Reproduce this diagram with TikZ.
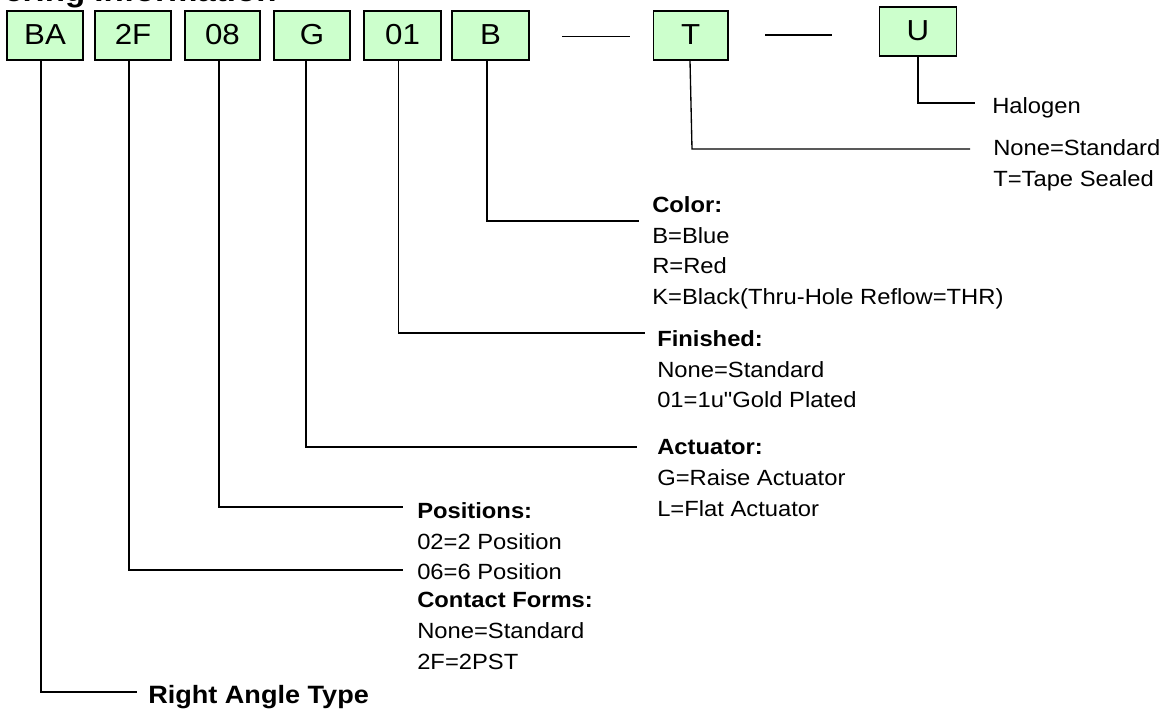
\documentclass[tikz,border=0pt]{standalone}
\usepackage{fontspec}
\setmainfont[FakeStretch=1.08]{Liberation Sans}
\newfontfamily\quotefont[FakeStretch=1.08]{Liberation Sans}
\definecolor{boxgreen}{HTML}{CCFFCC}
\tikzset{
  part/.style={draw=black,fill=boxgreen,line width=1pt,minimum height=49pt*0.75,inner sep=0pt,text height=12.9pt,text depth=0pt,font=\fontsize{21.7}{24}\selectfont,text=black},
  lead/.style={line width=1pt,black},
  info/.style={anchor=north west,inner sep=0pt,align=left,font=\fontsize{16.5}{23.1}\selectfont},
}
\begin{document}
\begin{tikzpicture}[x=0.75pt,y=-0.75pt]
\useasboundingbox (0,0) rectangle (1163,710);
\begin{scope}
\clip (0,0) rectangle (1163,710);
\node[anchor=base west,inner sep=0pt,font=\bfseries\fontsize{23}{26}\selectfont] (title) at (4,1.5) {ering Information};
\end{scope}
\node[part,minimum width=76pt*0.75] (ba) at (45,35.5) {BA};
\node[part,minimum width=76pt*0.75] (f2) at (133,35.5) {2F};
\node[part,minimum width=75pt*0.75] (p8) at (222.5,35.5) {08};
\node[part,minimum width=76pt*0.75] (g) at (312,35.5) {G};
\node[part,minimum width=77pt*0.75] (z1) at (402.5,35.5) {01};
\node[part,minimum width=77pt*0.75] (b) at (490.5,35.5) {B};
\node[part,minimum width=74.5pt*0.75] (t) at (690.75,35.5) {T};
\node[part,minimum width=76.4pt*0.75] (u) at (918,31.5) {U};
\coordinate (d1a) at (562,36.5);\coordinate (d1b) at (630,36.5);
\coordinate (d2a) at (765,35);\coordinate (d2b) at (832,35);
\draw[lead] (d1a)--(d1b);
\draw[lead] (d2a)--(d2b);
\node[info] (nu) at (992,97) {Halogen};
\node[info] (nt) at (993,139) {None=Standard\\T=Tape Sealed};
\node[info] (nb) at (652,196) {\textbf{Color:}\\B=Blue\\R=Red\\K=Black(Thru-Hole Reflow=THR)};
\node[info] (nz) at (657,330) {\textbf{Finished:}\\None=Standard\\01=1u{\quotefont "}Gold Plated};
\node[info] (ng) at (657,439) {\textbf{Actuator:}\\G=Raise Actuator\\L=Flat Actuator};
\node[info] (np) at (417,502) {\textbf{Positions:}\\02=2 Position\\06=6 Position};
\node[info] (nf) at (417,592) {\textbf{Contact Forms:}\\None=Standard\\2F=2PST};
\node[anchor=north west,inner sep=0pt,font=\bfseries\fontsize{18.8}{22}\selectfont] (nr) at (148,685) {Right Angle Type};
\coordinate (eu) at (975,103);
\coordinate (et) at (970,149);
\coordinate (eb) at (639,221);
\coordinate (ez) at (645,333);
\coordinate (eg) at (637,447);
\coordinate (ep) at (403,507);
\coordinate (ef) at (403,570);
\coordinate (er) at (137,692);
\draw[lead] (u.south) |- (eu);
\draw[lead] (t.south) ++(-0.75,0) -- (692,149) -- (et);
\draw[lead] (b.south) ++(-3.5,0) |- (eb);
\draw[lead] (z1.south) ++(-4,0) |- (ez);
\draw[lead] (g.south) ++(-6,0) |- (eg);
\draw[lead] (p8.south) ++(-3.5,0) |- (ep);
\draw[lead] (f2.south) ++(-4,0) |- (ef);
\draw[lead] (ba.south) ++(-4,0) |- (er);
\end{tikzpicture}
\end{document}
